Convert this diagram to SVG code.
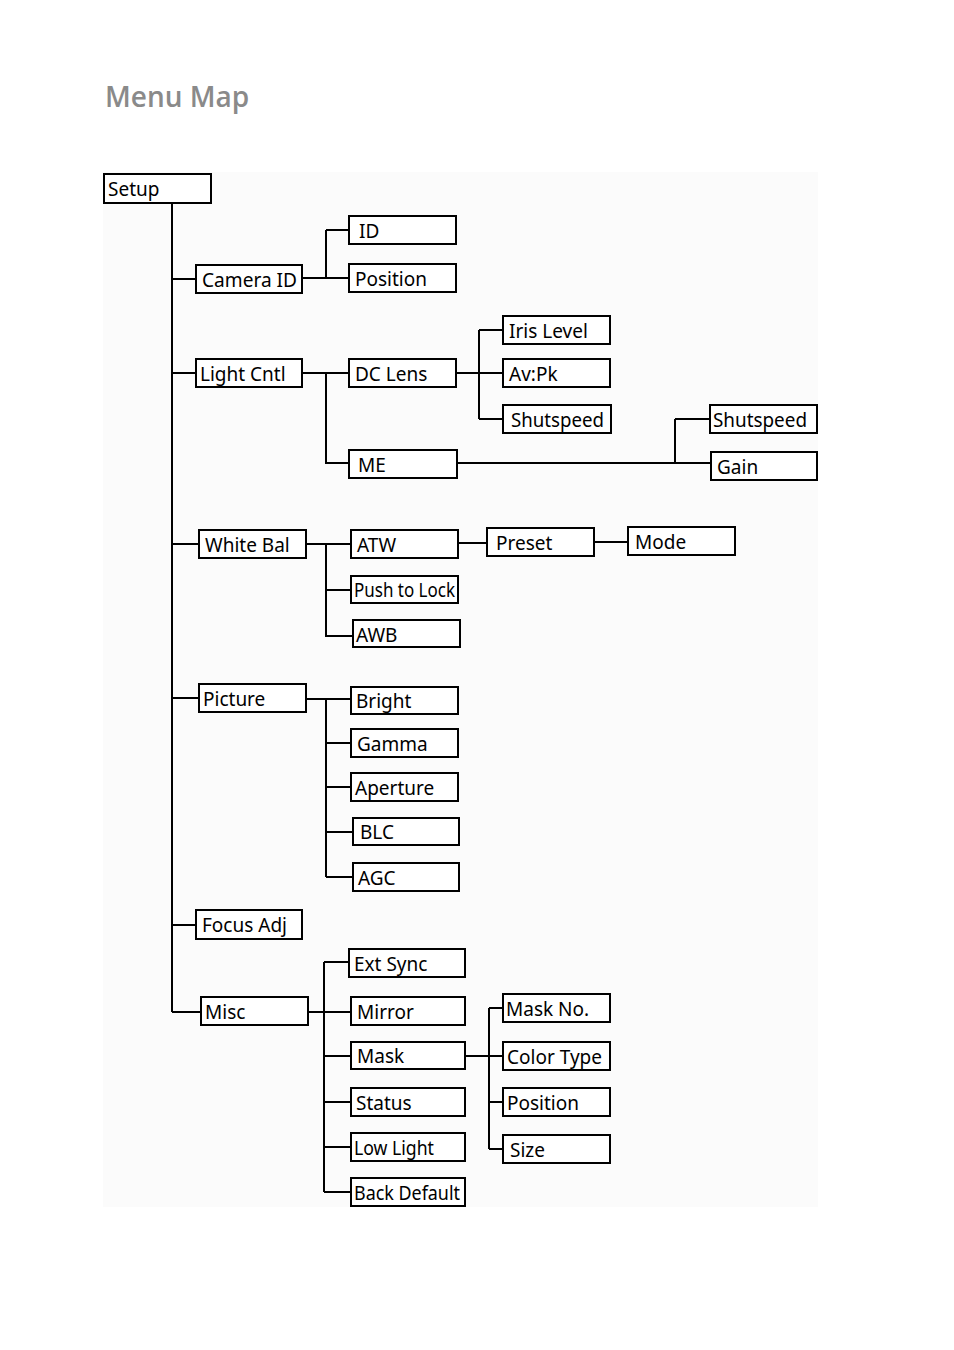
<svg xmlns="http://www.w3.org/2000/svg" width="954" height="1350" viewBox="0 0 954 1350">
<style>
.b{fill:#fff;stroke:#000;stroke-width:2}
.t{font-family:"Noto Sans","DejaVu Sans",sans-serif;font-size:19px;fill:#000}
.c{fill:none;stroke:#000;stroke-width:2}
</style>
<rect x="0" y="0" width="954" height="1350" fill="#fff"/>
<rect x="103" y="172" width="715" height="1035" fill="#fbfbfb"/>
<text x="105" y="107" font-family="'Open Sans','Noto Sans',sans-serif" font-size="28" font-weight="600" fill="#8a8a8a">Menu Map</text>
<g id="connectors">
<path class="c" d="M172,203V1012M172,279H196M172,373H196M172,544H199M172,698H199M172,925H196M172,1012H201"/>
<path class="c" d="M302,278H349M326,230V278M326,230H349"/>
<path class="c" d="M302,373H349M326,373V463H349"/>
<path class="c" d="M456,373H503M479,330V419M479,330H503M479,419H503"/>
<path class="c" d="M457,463H711M675,419V463M675,419H710"/>
<path class="c" d="M306,544H351M326,544V636H353M326,590H351"/>
<path class="c" d="M458,543H487M594,542H628"/>
<path class="c" d="M306,699H351M326,699V877M326,743H351M326,787H351M326,832H353M326,877H353"/>
<path class="c" d="M308,1012H351M324,962V1192M324,962H349M324,1056H351M324,1102H351M324,1147H351M324,1192H351"/>
<path class="c" d="M465,1056H503M489,1008V1149M489,1008H503M489,1102H503M489,1149H503"/>
</g>
<g id="setup"><rect class="b" x="104" y="174" width="107" height="29" stroke-width="3"/><text class="t" x="108" y="196">Setup</text></g>
<g id="id"><rect class="b" x="349" y="216" width="107" height="28"/><text class="t" x="359" y="238">ID</text></g>
<g id="position1"><rect class="b" x="349" y="264" width="107" height="28"/><text class="t" x="355" y="286">Position</text></g>
<g id="cameraid"><rect class="b" x="196" y="265" width="106" height="28"/><text class="t" x="202" y="287" textLength="95" lengthAdjust="spacingAndGlyphs">Camera ID</text></g>
<g id="lightcntl"><rect class="b" x="196" y="359" width="106" height="28"/><text class="t" x="200" y="381">Light Cntl</text></g>
<g id="dclens"><rect class="b" x="349" y="359" width="107" height="28"/><text class="t" x="355" y="381">DC Lens</text></g>
<g id="irislevel"><rect class="b" x="503" y="316" width="107" height="28"/><text class="t" x="509" y="338">Iris Level</text></g>
<g id="avpk"><rect class="b" x="503" y="359" width="107" height="28"/><text class="t" x="509" y="381">Av:Pk</text></g>
<g id="shutspeed1"><rect class="b" x="503" y="405" width="108" height="28"/><text class="t" x="511" y="427" textLength="93" lengthAdjust="spacingAndGlyphs">Shutspeed</text></g>
<g id="me"><rect class="b" x="349" y="450" width="108" height="28"/><text class="t" x="358" y="472">ME</text></g>
<g id="shutspeed2"><rect class="b" x="710" y="405" width="107" height="28"/><text class="t" x="713" y="427" textLength="94" lengthAdjust="spacingAndGlyphs">Shutspeed</text></g>
<g id="gain"><rect class="b" x="711" y="452" width="106" height="28"/><text class="t" x="717" y="474">Gain</text></g>
<g id="whitebal"><rect class="b" x="199" y="530" width="107" height="28"/><text class="t" x="205" y="552">White Bal</text></g>
<g id="atw"><rect class="b" x="351" y="530" width="107" height="28"/><text class="t" x="357" y="552">ATW</text></g>
<g id="preset"><rect class="b" x="487" y="528" width="107" height="28"/><text class="t" x="496" y="550">Preset</text></g>
<g id="mode"><rect class="b" x="628" y="527" width="107" height="28"/><text class="t" x="635" y="549">Mode</text></g>
<g id="pushtolock"><rect class="b" x="351" y="576" width="107" height="27"/><text class="t" x="354" y="597" font-size="18" textLength="101" lengthAdjust="spacingAndGlyphs">Push to Lock</text></g>
<g id="awb"><rect class="b" x="353" y="620" width="107" height="27"/><text class="t" x="356" y="642">AWB</text></g>
<g id="picture"><rect class="b" x="199" y="684" width="107" height="28"/><text class="t" x="203" y="706">Picture</text></g>
<g id="bright"><rect class="b" x="351" y="687" width="107" height="27"/><text class="t" x="356" y="708">Bright</text></g>
<g id="gamma"><rect class="b" x="351" y="729" width="107" height="28"/><text class="t" x="357" y="751">Gamma</text></g>
<g id="aperture"><rect class="b" x="351" y="773" width="107" height="28"/><text class="t" x="355" y="795">Aperture</text></g>
<g id="blc"><rect class="b" x="353" y="818" width="106" height="27"/><text class="t" x="360" y="839">BLC</text></g>
<g id="agc"><rect class="b" x="353" y="863" width="106" height="28"/><text class="t" x="358" y="885">AGC</text></g>
<g id="focusadj"><rect class="b" x="196" y="910" width="106" height="29"/><text class="t" x="202" y="932">Focus Adj</text></g>
<g id="extsync"><rect class="b" x="349" y="949" width="116" height="28"/><text class="t" x="354" y="971">Ext Sync</text></g>
<g id="misc"><rect class="b" x="201" y="997" width="107" height="28"/><text class="t" x="205" y="1019">Misc</text></g>
<g id="mirror"><rect class="b" x="351" y="997" width="114" height="28"/><text class="t" x="357" y="1019">Mirror</text></g>
<g id="mask"><rect class="b" x="351" y="1042" width="114" height="27"/><text class="t" x="357" y="1063">Mask</text></g>
<g id="status"><rect class="b" x="351" y="1088" width="114" height="28"/><text class="t" x="356" y="1110">Status</text></g>
<g id="lowlight"><rect class="b" x="351" y="1133" width="114" height="28"/><text class="t" x="354" y="1155" textLength="80" lengthAdjust="spacingAndGlyphs">Low Light</text></g>
<g id="backdefault"><rect class="b" x="351" y="1178" width="114" height="28"/><text class="t" x="354" y="1200" font-size="18" textLength="106" lengthAdjust="spacingAndGlyphs">Back Default</text></g>
<g id="maskno"><rect class="b" x="503" y="994" width="107" height="28"/><text class="t" x="506" y="1016">Mask No.</text></g>
<g id="colortype"><rect class="b" x="503" y="1042" width="107" height="28"/><text class="t" x="507" y="1064" textLength="95" lengthAdjust="spacingAndGlyphs">Color Type</text></g>
<g id="position2"><rect class="b" x="503" y="1088" width="107" height="28"/><text class="t" x="507" y="1110">Position</text></g>
<g id="size"><rect class="b" x="503" y="1135" width="107" height="28"/><text class="t" x="510" y="1157">Size</text></g>
</svg>
